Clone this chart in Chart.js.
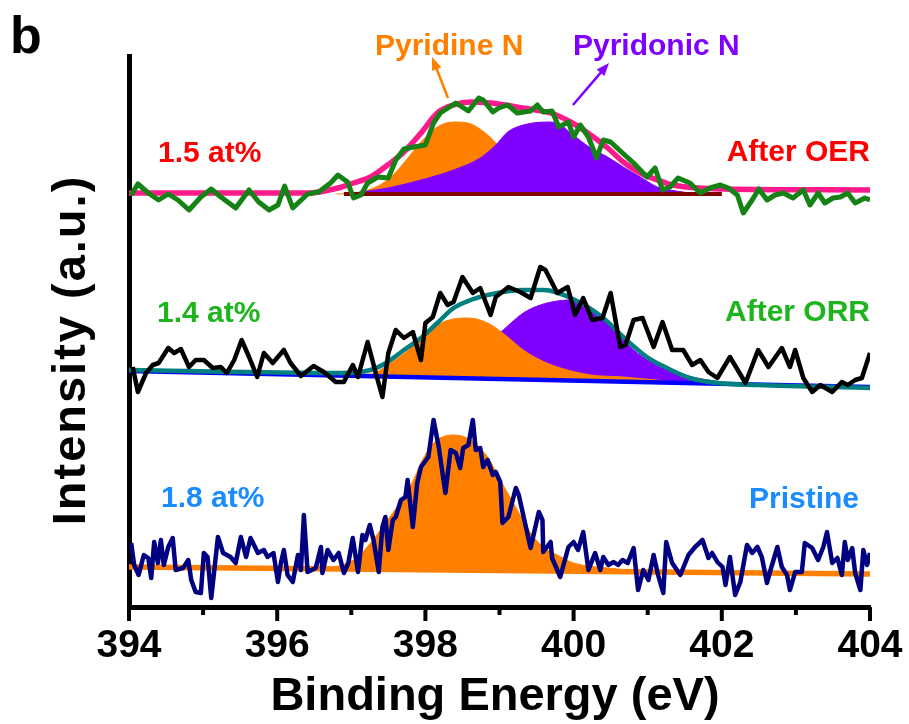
<!DOCTYPE html>
<html>
<head>
<meta charset="utf-8">
<script src="https://cdn.jsdelivr.net/npm/chart.js@4.4.0/dist/chart.umd.min.js"></script>
<style>
body { margin: 0; background: #fff; }
</style>
</head>
<body>
<canvas id="xpsChart" width="909" height="724"></canvas>
<script>
// After OER (top spectrum)
const oerE = [394.03,394.12,394.26,394.40,394.53,394.66,394.81,394.97,395.11,395.24,395.44,395.62,395.75,395.89,396.01,396.10,396.21,396.41,396.56,396.72,396.82,396.95,397.03,397.13,397.22,397.36,397.50,397.60,397.71,397.84,398.00,398.11,398.20,398.41,398.58,398.72,398.78,398.91,398.99,399.11,399.24,399.42,399.51,399.59,399.71,399.80,399.93,400.00,400.09,400.20,400.31,400.40,400.50,400.66,400.81,400.99,401.10,401.20,401.30,401.41,401.57,401.71,401.84,401.98,402.09,402.21,402.29,402.41,402.50,402.61,402.72,402.83,402.96,403.10,403.19,403.30,403.39,403.50,403.60,403.70,403.80,403.93,404.00];
const oerI = [410,421,412,405,411,405,395,408,416,408,397,415,403,395,400,419,397,411,413,422,430,423,407,410,422,428,427,445,456,458,460,482,492,502,494,507,505,493,497,500,492,494,500,493,494,478,483,468,480,468,447,465,463,452,442,428,437,415,418,427,422,412,417,420,417,410,392,405,416,405,410,412,407,415,400,412,402,407,408,412,402,407,405];
const oerFitE = [394.00,396.41,396.82,397.03,397.26,397.49,397.71,397.94,398.16,398.38,398.61,398.88,399.32,399.69,399.96,400.23,400.46,400.67,400.90,401.13,401.34,401.67,402.02,404.00];
const oerFitI = [412,412,417,422,428,440,453,472,492,500,503,502,497,492,483,470,457,443,432,425,420,417,416,415];
const oerBaseE = [396.90,402.00];
const oerBaseI = [411,411];
const oerPyE = [396.80,397.13,397.49,397.71,397.94,398.16,398.38,398.57,398.84,399.01,399.22,399.42,399.69,399.96];
const oerPyI = [411,413,425,442,463,478,483,482,470,457,440,425,415,412];
const oerPdE = [397.03,397.49,397.94,398.38,398.74,398.95,399.11,399.32,399.65,399.78,399.96,400.23,400.46,400.67,400.90,401.13,401.30,401.57];
const oerPdI = [412,417,425,435,447,460,473,480,483,482,472,457,448,438,428,418,415,412];

// After ORR (middle spectrum)
const orrE = [394.05,394.12,394.23,394.32,394.40,394.53,394.61,394.70,394.81,394.90,395.01,395.13,395.24,395.32,395.42,395.52,395.62,395.73,395.82,395.94,396.09,396.18,396.32,396.49,396.63,396.79,396.90,397.02,397.09,397.22,397.33,397.42,397.50,397.60,397.71,397.83,397.94,398.00,398.10,398.20,398.30,398.38,398.50,398.64,398.74,398.88,398.95,399.12,399.28,399.42,399.55,399.62,399.78,399.92,400.02,400.13,400.25,400.39,400.50,400.63,400.70,400.81,400.93,401.08,401.20,401.33,401.48,401.60,401.71,401.82,401.94,402.11,402.32,402.49,402.63,402.81,402.92,402.99,403.10,403.22,403.33,403.49,403.62,403.70,403.80,403.89,404.00];
const orrI = [238,213,232,240,242,257,252,256,238,245,245,237,238,232,245,265,248,228,252,242,255,242,229,239,233,223,223,240,228,263,232,208,252,275,267,273,245,282,288,312,300,303,328,312,317,290,308,318,313,307,338,335,312,318,290,307,285,287,312,258,260,285,287,258,283,255,255,240,245,233,227,248,222,255,238,257,238,255,227,213,220,213,223,220,225,227,252];
const orrFitE = [394.00,396.86,397.26,397.49,397.71,397.94,398.16,398.38,398.61,398.84,399.32,399.59,400.02,400.40,400.67,400.99,401.26,401.57,401.94,402.48,404.00];
const orrFitI = [235,232,235,243,255,267,282,297,305,310,315,315,305,287,268,248,237,227,222,220,217];
const orrBaseE = [394.00,404.00];
const orrBaseI = [234,218];
const orrPyE = [396.50,397.26,397.49,397.94,398.16,398.38,398.57,398.84,399.11,399.32,399.55,399.78,400.23,400.67,401.50];
const orrPyI = [230,231,240,265,280,286,287,282,268,255,245,238,230,228,222];
const orrPdE = [397.50,397.94,398.38,398.84,399.05,399.32,399.55,399.78,399.92,400.13,400.36,400.59,400.81,401.04,401.26,401.48,401.80,402.20];
const orrPdI = [229,233,240,262,275,292,300,304,305,302,288,272,255,243,235,230,225,221];

// Pristine (bottom spectrum)
const priE = [394.03,394.07,394.13,394.20,394.26,394.30,394.34,394.39,394.43,394.47,394.53,394.59,394.63,394.73,394.80,394.84,394.90,394.97,395.01,395.06,395.11,395.20,395.27,395.37,395.44,395.51,395.58,395.64,395.74,395.82,395.87,395.95,396.01,396.05,396.09,396.14,396.21,396.28,396.32,396.36,396.41,396.52,396.59,396.61,396.68,396.76,396.83,396.90,396.96,397.02,397.09,397.15,397.19,397.25,397.30,397.37,397.42,397.46,397.50,397.56,397.60,397.67,397.73,397.76,397.83,397.89,397.94,398.04,398.11,398.18,398.27,398.34,398.41,398.47,398.51,398.58,398.64,398.68,398.74,398.78,398.84,398.91,398.95,399.01,399.04,399.12,399.22,399.26,399.42,399.53,399.58,399.59,399.69,399.71,399.82,399.93,400.00,400.06,400.13,400.20,400.29,400.36,400.40,400.47,400.54,400.60,400.66,400.73,400.81,400.87,400.94,401.01,401.08,401.14,401.21,401.25,401.33,401.44,401.55,401.64,401.74,401.82,401.87,401.94,402.01,402.05,402.11,402.18,402.25,402.34,402.41,402.48,402.54,402.61,402.65,402.75,402.81,402.88,402.92,402.99,403.08,403.12,403.22,403.30,403.37,403.42,403.49,403.56,403.62,403.66,403.70,403.76,403.80,403.87,403.91,403.96,404.00];
const priI = [62,40,30,50,47,27,63,42,65,40,58,67,35,37,45,25,13,12,52,48,7,68,52,48,42,68,48,67,52,55,48,52,23,42,55,30,23,50,35,90,33,37,58,32,55,45,52,32,42,67,33,70,65,80,65,33,78,88,55,85,88,105,108,125,78,122,138,148,185,158,112,155,152,137,157,160,185,155,157,138,145,130,133,123,82,88,117,110,57,93,85,53,63,47,28,58,63,55,73,35,52,35,48,40,43,40,45,42,57,15,35,25,50,30,12,63,42,30,50,58,65,47,52,43,38,20,48,10,23,60,52,58,48,22,33,58,38,30,15,33,33,62,57,45,58,73,42,47,30,63,45,57,32,15,55,40,52];
const priBaseE = [394.00,404.00];
const priBaseI = [38,31];
const priPyE = [394.00,396.50,397.03,397.26,397.49,397.71,397.84,397.94,398.11,398.38,398.61,398.84,399.01,399.24,399.42,399.59,399.78,400.00,400.46,401.13,404.00];
const priPyI = [38,37,45,62,85,108,125,142,162,170,165,148,125,95,72,58,50,42,37,33,31];

const xTicks = [394, 395, 396, 397, 398, 399, 400, 401, 402, 403, 404];

const FONT = '"Liberation Sans", Arial, sans-serif';
const ORANGE = '#ff8000';
const PURPLE = '#8000ff';

function pts(xs, ys) {
    return xs.map((x, i) => ({ x: x, y: ys[i] }));
}

function rawLine(xs, ys, color, width, order) {
    return {
        data: pts(xs, ys),
        borderColor: color,
        borderWidth: width,
        pointRadius: 0,
        tension: 0,
        borderJoinStyle: 'round',
        fill: false,
        order: order
    };
}

function fitLine(xs, ys, color, width, order) {
    return {
        data: pts(xs, ys),
        borderColor: color,
        borderWidth: width,
        pointRadius: 0,
        cubicInterpolationMode: 'monotone',
        fill: false,
        order: order
    };
}

function peak(xs, ys, color, target, order) {
    return {
        data: pts(xs, ys),
        borderColor: color,
        backgroundColor: color,
        borderWidth: 1,
        pointRadius: 0,
        cubicInterpolationMode: 'monotone',
        fill: { target: target, above: color, below: color },
        order: order
    };
}

const datasets = [
    rawLine(oerE, oerI, '#148214', 5, 1),          // 0
    fitLine(oerFitE, oerFitI, '#ff1a8c', 5.5, 2),  // 1
    rawLine(oerBaseE, oerBaseI, '#800000', 4, 3),  // 2
    peak(oerPdE, oerPdI, PURPLE, 2, 4),            // 3
    peak(oerPyE, oerPyI, ORANGE, 2, 5),            // 4
    rawLine(orrE, orrI, '#000000', 4.5, 1),        // 5
    fitLine(orrFitE, orrFitI, '#008080', 4.5, 2),  // 6
    rawLine(orrBaseE, orrBaseI, '#0000ff', 4.5, 3),// 7
    peak(orrPyE, orrPyI, ORANGE, 7, 4),            // 8
    peak(orrPdE, orrPdI, PURPLE, 7, 5),            // 9
    rawLine(priE, priI, '#000080', 4.5, 1),        // 10
    rawLine(priBaseE, priBaseI, ORANGE, 5.5, 2),   // 11
    peak(priPyE, priPyI, ORANGE, 11, 3)            // 12
];

function arrow(ctx, x1, y1, x2, y2, color) {
    const ang = Math.atan2(y2 - y1, x2 - x1);
    const len = 13, half = 5;
    ctx.strokeStyle = color;
    ctx.fillStyle = color;
    ctx.lineWidth = 2.5;
    ctx.beginPath();
    ctx.moveTo(x1, y1);
    ctx.lineTo(x2 - Math.cos(ang) * len * 0.8, y2 - Math.sin(ang) * len * 0.8);
    ctx.stroke();
    ctx.beginPath();
    ctx.moveTo(x2, y2);
    ctx.lineTo(x2 - Math.cos(ang) * len - Math.sin(ang) * half, y2 - Math.sin(ang) * len + Math.cos(ang) * half);
    ctx.lineTo(x2 - Math.cos(ang) * len + Math.sin(ang) * half, y2 - Math.sin(ang) * len - Math.cos(ang) * half);
    ctx.closePath();
    ctx.fill();
}

const decorations = {
    id: 'decorations',
    afterDraw(chart) {
        const ctx = chart.ctx;
        const xs = chart.scales.x;
        const area = chart.chartArea;
        ctx.save();

        // tick marks, long at labelled values
        ctx.strokeStyle = '#000';
        ctx.lineWidth = 4;
        xTicks.forEach(v => {
            const px = xs.getPixelForValue(v);
            const len = v % 2 === 0 ? 14 : 8;
            ctx.beginPath();
            ctx.moveTo(px, area.bottom);
            ctx.lineTo(px, area.bottom + len);
            ctx.stroke();
        });

        ctx.textBaseline = 'alphabetic';

        // axis titles
        ctx.fillStyle = '#000';
        ctx.font = 'bold 47px ' + FONT;
        ctx.textAlign = 'center';
        ctx.fillText('Binding Energy (eV)', 495, 710);
        ctx.save();
        ctx.translate(85, 350);
        ctx.rotate(-Math.PI / 2);
        ctx.letterSpacing = '2px';
        ctx.fillText('Intensity (a.u.)', 0, 0);
        ctx.restore();

        // panel letter
        ctx.textAlign = 'left';
        ctx.font = 'bold 52px ' + FONT;
        ctx.fillText('b', 10, 53);

        // component labels and arrows
        ctx.font = 'bold 30px ' + FONT;
        ctx.fillStyle = ORANGE;
        ctx.fillText('Pyridine N', 375, 55);
        ctx.fillStyle = PURPLE;
        ctx.fillText('Pyridonic N', 573, 55);
        arrow(ctx, 448, 98, 432, 57, ORANGE);
        arrow(ctx, 573, 105, 609, 63, PURPLE);

        // content and sample labels
        ctx.fillStyle = '#ff0000';
        ctx.fillText('1.5 at%', 158, 162);
        ctx.textAlign = 'right';
        ctx.fillText('After OER', 870, 161);

        ctx.fillStyle = '#1db41d';
        ctx.textAlign = 'left';
        ctx.fillText('1.4 at%', 157, 322);
        ctx.textAlign = 'right';
        ctx.fillText('After ORR', 870, 321);

        ctx.fillStyle = '#1a8cff';
        ctx.textAlign = 'left';
        ctx.fillText('1.8 at%', 161, 507);
        ctx.textAlign = 'right';
        ctx.fillText('Pristine', 859, 508);

        ctx.restore();
    }
};

const ctx = document.getElementById('xpsChart').getContext('2d');
const xpsChart = new Chart(ctx, {
    type: 'line',
    data: { datasets: datasets },
    options: {
        responsive: false,
        animation: false,
        devicePixelRatio: 1,
        layout: { padding: { top: 56, right: 39, bottom: 0, left: 0 } },
        plugins: {
            legend: { display: false },
            tooltip: { enabled: false }
        },
        scales: {
            x: {
                type: 'linear',
                min: 394,
                max: 404,
                afterFit: s => {
                    s.height = 117;
                    s.paddingLeft = 0;
                    s.paddingRight = 0;
                },
                grid: { display: false, drawTicks: false },
                border: { display: true, color: '#000', width: 5 },
                ticks: {
                    stepSize: 1,
                    autoSkip: false,
                    maxRotation: 0,
                    padding: 16,
                    color: '#000',
                    font: { family: FONT, size: 39, weight: 'bold' },
                    callback: v => (v % 2 === 0 ? v : '')
                }
            },
            y: {
                min: -2,
                max: 549,
                afterFit: s => { s.width = 129; },
                grid: { display: false, drawTicks: false },
                border: { display: true, color: '#000', width: 5 },
                ticks: { display: false }
            }
        }
    },
    plugins: [decorations]
});
</script>
</body>
</html>
